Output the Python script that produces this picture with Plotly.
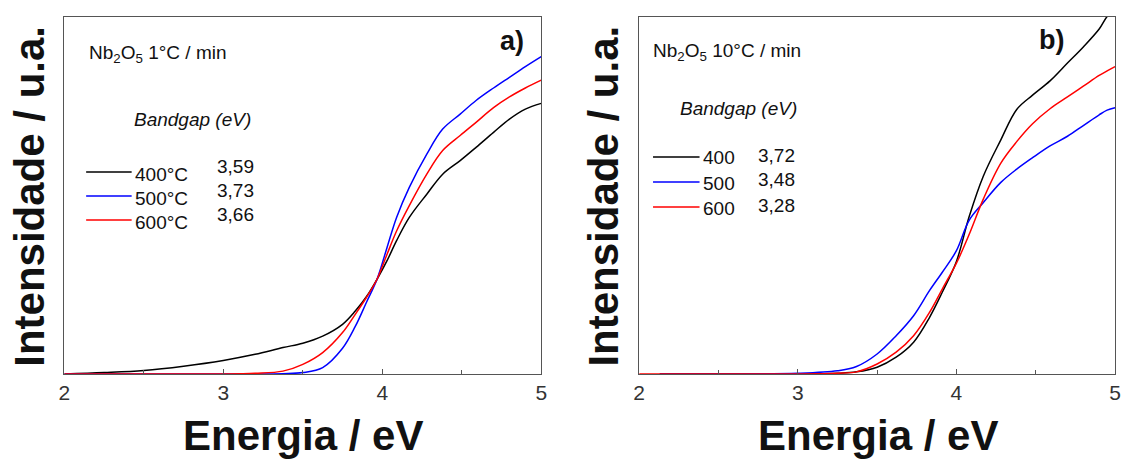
import plotly.graph_objects as go

# ---------------- data ----------------
energy_a = [2.0, 2.25, 2.5, 2.75, 3.0, 3.2, 3.375, 3.5, 3.625, 3.75, 3.83, 3.9, 3.967,
            4.03, 4.09, 4.17, 4.28, 4.38, 4.49, 4.59, 4.7, 4.8, 4.9, 5.0]
a_400 = [0.0, 0.004, 0.010, 0.022, 0.038, 0.055, 0.074, 0.086, 0.106, 0.139, 0.176, 0.216, 0.265,
         0.317, 0.373, 0.438, 0.503, 0.559, 0.597, 0.634, 0.676, 0.713, 0.741, 0.757]
a_500 = [0.0, 0.0, 0.0, 0.0, 0.0, 0.0, 0.001, 0.004, 0.018, 0.072, 0.133, 0.200, 0.265,
         0.354, 0.438, 0.522, 0.615, 0.685, 0.727, 0.765, 0.800, 0.830, 0.860, 0.888]
a_600 = [0.0, 0.0, 0.0, 0.0, 0.0, 0.002, 0.008, 0.027, 0.060, 0.116, 0.167, 0.214, 0.265,
         0.335, 0.400, 0.471, 0.559, 0.625, 0.667, 0.704, 0.745, 0.775, 0.800, 0.822]

energy_b = [2.13, 2.5, 3.0, 3.25, 3.37, 3.5, 3.62, 3.73, 3.83, 3.91, 4.0, 4.08, 4.17,
            4.28, 4.38, 4.48, 4.59, 4.7, 4.8, 4.9, 4.95, 5.0]
b_400 = [0.0, 0.0, 0.0, 0.002, 0.006, 0.019, 0.047, 0.089, 0.158, 0.228, 0.315, 0.440, 0.554,
         0.655, 0.740, 0.780, 0.820, 0.870, 0.915, 0.965, 1.0, 1.02]
b_500 = [0.0, 0.0, 0.002, 0.009, 0.021, 0.056, 0.107, 0.163, 0.233, 0.284, 0.345, 0.430, 0.480,
         0.536, 0.573, 0.605, 0.638, 0.665, 0.695, 0.725, 0.738, 0.745]
energy_b_red = [2.0] + energy_b
b_600 = [0.0, 0.0, 0.0, 0.0, 0.002, 0.006, 0.028, 0.061, 0.107, 0.172, 0.237, 0.310, 0.390, 0.490,
         0.590, 0.650, 0.700, 0.742, 0.775, 0.805, 0.835, 0.848, 0.860]

labels_a = ["400°C", "500°C", "600°C"]
gaps_a = ["3,59", "3,73", "3,66"]
labels_b = ["400", "500", "600"]
gaps_b = ["3,72", "3,48", "3,28"]
colors = ["#000000", "#0000ff", "#ff0000"]

x_ticks = [2, 3, 4, 5]

FONT = "Liberation Sans, Arial, sans-serif"
W, H = 1126, 459

fig = go.Figure()

for name, ys, c in zip(labels_a, [a_400, a_500, a_600], colors):
    fig.add_trace(go.Scatter(x=energy_a, y=ys, mode="lines", name=name,
                             line=dict(color=c, width=1.5, shape="spline", smoothing=1.0),
                             xaxis="x", yaxis="y", showlegend=False))

for name, xs, ys, c in zip(labels_b, [energy_b, energy_b, energy_b_red], [b_400, b_500, b_600], colors):
    fig.add_trace(go.Scatter(x=xs, y=ys, mode="lines", name=name,
                             line=dict(color=c, width=1.5, shape="spline", smoothing=1.0),
                             xaxis="x2", yaxis="y2", showlegend=False))


def px_x(p):
    return p / W


def px_y(p):
    return 1 - p / H


ydom = [px_y(374), px_y(16.5)]

axis_common = dict(showline=True, linecolor="#555555", linewidth=1, mirror=True,
                   showgrid=False, zeroline=False)

xcommon = dict(axis_common, range=[2, 5], tickvals=x_ticks, ticks="inside", ticklen=5,
               tickcolor="#555555", tickfont=dict(family=FONT, size=21, color="#333333"),
               minor=dict(ticks="inside", dtick=0.5, ticklen=4, tickcolor="#555555"))
ycommon = dict(axis_common, range=[0, 1], showticklabels=False, ticks="")

fig.update_layout(
    width=W, height=H,
    margin=dict(l=0, r=0, t=0, b=0),
    paper_bgcolor="white", plot_bgcolor="white",
    xaxis=dict(xcommon, domain=[px_x(59), px_x(541)], anchor="y"),
    yaxis=dict(ycommon, domain=ydom, anchor="x"),
    xaxis2=dict(xcommon, domain=[px_x(640), px_x(1121)], anchor="y2"),
    yaxis2=dict(ycommon, domain=ydom, anchor="x2"),
    showlegend=False,
)

ann = []
shapes = []


def add(text, x, y, size, bold=False, italic=False, xanchor="left", yanchor="middle", angle=0,
        color="#111111"):
    t = text
    if bold:
        t = "<b>" + t + "</b>"
    if italic:
        t = "<i>" + t + "</i>"
    ann.append(dict(text=t, x=px_x(x), y=px_y(y), xref="paper", yref="paper",
                    xanchor=xanchor, yanchor=yanchor, showarrow=False, textangle=angle,
                    borderpad=0,
                    font=dict(family=FONT, size=size, color=color)))


def legend_row(x0, x1, y, color, label, label_y, value, vx, vy):
    shapes.append(dict(type="line", xref="paper", yref="paper",
                       x0=px_x(x0), x1=px_x(x1), y0=px_y(y), y1=px_y(y),
                       line=dict(color=color, width=1.5)))
    add(label, x1 + 2, label_y, 19)
    add(value, vx, vy, 19)


# panel a
add("Nb<sub>2</sub>O<sub>5</sub> 1°C / min", 83, 54, 19)
add("Bandgap (eV)", 128, 120, 19, italic=True)
for i in range(3):
    legend_row(81, 127, 172 + 24 * i, colors[i], labels_a[i], 174 + 24 * i,
               gaps_a[i], 212, 166 + 24 * i)
add("a)", 498, 41, 27, bold=True)
add("Energia / eV", 300, 435, 42, bold=True, xanchor="center")
add("Intensidade / u.a.", 24, 196, 42, bold=True, xanchor="center", angle=-90)

# panel b
add("Nb<sub>2</sub>O<sub>5</sub> 10°C / min", 653, 52, 19)
add("Bandgap (eV)", 680, 108, 19, italic=True)
for i in range(3):
    legend_row(654, 701, 157 + 25 * i, colors[i], labels_b[i], 158 + 25 * i,
               gaps_b[i], 759, 155 + 25 * i)
add("b)", 1043, 40, 27, bold=True)
add("Energia / eV", 881, 435, 42, bold=True, xanchor="center")
add("Intensidade / u.a.", 604, 196, 42, bold=True, xanchor="center", angle=-90)

fig.update_layout(annotations=ann, shapes=shapes)

fig.write_html("out.html")
